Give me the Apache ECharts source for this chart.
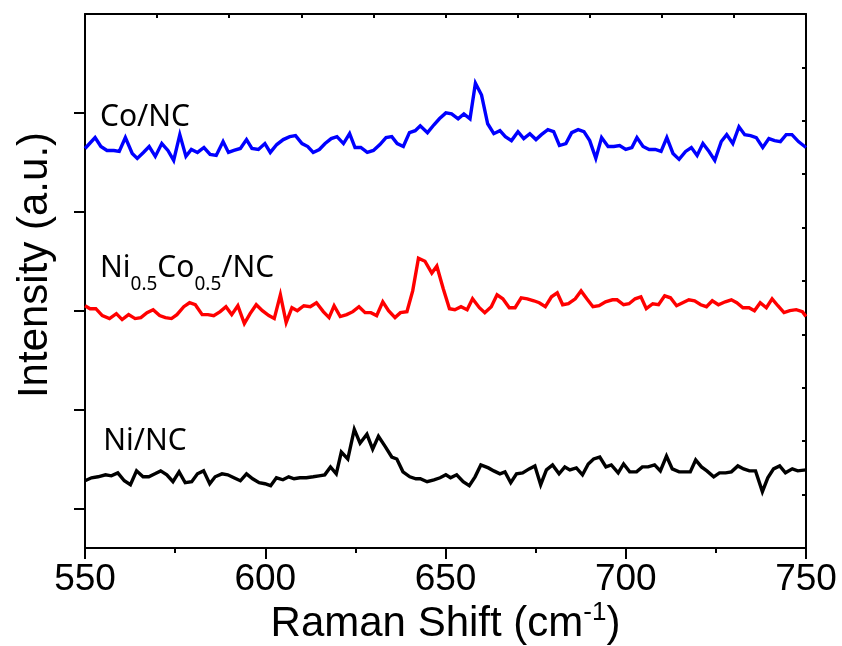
<!DOCTYPE html>
<html>
<head>
<meta charset="utf-8">
<script src="https://cdn.jsdelivr.net/npm/echarts@6/dist/echarts.min.js"></script>
<style>html,body{margin:0;padding:0;background:#fff;}#c{width:842px;height:646px;}</style>
</head>
<body>
<div id="c"></div>
<script>
// ---- data (Raman shift in cm^-1, intensity in a.u. with vertical offsets) ----
const xTicks = [550, 600, 650, 700, 750];
const yTickValues = [0, 100, 200, 300, 400];

const coShift = [550,552.8,554.4,556.1,558.0,559.5,561.2,563.1,564.5,566.2,
567.8,569.5,571.3,573.0,574.6,576.3,578.0,579.5,581.2,583.0,
584.7,586.4,588.3,589.8,591.3,593.1,594.8,596.3,598.1,599.9,
601.4,603.2,605.0,606.8,608.4,610.2,611.8,613.3,615.0,616.6,
618.3,619.9,621.7,623.4,624.9,626.5,628.3,630.0,631.8,633.5,
635.1,636.6,638.3,640.0,641.6,643.0,645.0,646.8,648.3,650.1,
651.7,653.5,655.1,656.8,658.3,660.0,661.7,663.4,665.1,666.6,
668.3,670.1,671.7,673.4,675.1,676.6,678.4,680.0,681.6,683.4,
685.0,686.8,688.4,690.0,691.7,693.3,695.1,696.7,698.3,700.0,
701.7,703.1,704.8,706.5,708.2,709.8,711.4,713.1,714.8,716.6,
718.2,719.8,721.4,723.1,724.7,726.5,728.0,729.7,731.4,733.0,
734.6,736.2,738.0,739.7,741.3,742.9,744.5,746.1,747.9,750];
const coIntensity = [364,375,366,362,362,361,375,359,354,360,
366,356,369,362,352,378,356,363,360,365,
358,357,371,360,362,364,373,364,363,369,
360,368,373,376,377,369,366,360,363,369,
374,376,369,379,365,365,360,362,368,375,
376,369,366,380,382,387,380,388,394,400,
399,394,399,394,430,418,389,379,382,376,
372,381,374,379,373,378,383,381,367,369,
380,383,381,372,354,375,366,366,367,363,
365,375,366,363,363,361,375,359,353,361,
365,357,369,361,352,371,378,369,386,378,
377,375,365,374,372,371,378,378,371,365];

const niCoShift = [550,551.4,553.0,554.8,556.8,558.7,560.3,562.1,563.9,565.5,
567.2,568.9,570.7,572.3,574.0,575.5,577.4,579.0,580.6,582.5,
584.1,585.7,587.5,589.1,590.7,592.4,594.2,595.8,597.5,599.2,
601.0,602.5,604.2,605.8,607.4,608.9,610.7,612.5,614.2,616.1,
617.7,619.1,620.8,622.6,624.3,626.0,627.7,629.3,630.9,632.6,
634.2,636.0,637.5,639.3,640.9,642.5,644.3,646.2,647.6,649.4,
651.1,652.6,654.3,656.0,657.5,659.4,660.9,662.7,664.3,665.9,
667.7,669.3,671.0,672.7,674.5,676.0,677.7,679.4,681.0,682.5,
684.1,686.0,687.6,689.2,690.9,692.6,694.4,696.3,697.6,699.4,
700.9,702.6,704.2,705.7,707.5,709.1,710.8,712.4,714.1,715.8,
717.5,719.1,720.8,722.4,724.0,725.7,727.6,729.3,730.8,732.5,
734.2,735.7,737.3,739.0,740.6,742.2,743.9,745.5,747.3,749.0,750];
const niCoIntensity = [205,202,202,195,192,197,191,196,192,193,
198,201,195,193,192,196,204,208,206,196,
196,195,199,204,196,205,187,197,206,200,
195,192,216,188,203,200,205,204,208,199,
193,205,194,196,199,204,198,198,195,209,
200,193,198,199,220,253,250,238,245,222,
202,201,204,201,212,203,198,204,216,212,
203,203,213,212,210,208,204,214,218,206,
207,212,220,212,204,205,209,211,211,206,
207,212,214,202,207,206,215,213,205,208,
211,210,206,204,210,206,209,211,208,203,
203,200,208,203,212,205,198,200,201,199,194];

const niShift = [550,551.8,553.6,555.7,557.3,559.1,560.9,562.6,564.3,566.1,
567.7,569.4,571.0,572.7,574.4,576.1,577.8,579.6,581.2,582.9,
584.6,586.1,588.0,589.6,591.3,593.1,594.8,596.5,598.3,599.9,
601.5,603.1,604.9,606.5,608.0,609.6,611.4,613.3,614.9,616.5,
618.1,619.7,621.1,622.9,624.7,626.3,628.2,629.8,631.4,633.2,
635.1,636.5,638.2,640.1,641.8,643.0,644.9,646.8,648.5,650.1,
651.4,653.1,654.9,656.6,658.2,659.8,661.9,663.4,665.1,666.5,
668.1,669.7,671.4,673.2,674.8,676.4,678.0,679.7,681.5,683.1,
684.5,686.3,688.0,689.6,691.1,692.8,694.5,696.0,697.9,699.4,
701.1,703.0,704.6,706.2,708.0,709.6,711.3,712.9,714.8,716.3,
717.9,719.4,721.0,722.5,724.4,726.0,727.7,729.3,731.1,732.7,
734.3,736.0,737.9,739.4,741.0,742.7,744.3,746.2,747.7,750];
const niIntensity = [28,31,32,34,33,36,28,24,38,32,
32,35,38,34,27,37,26,27,35,38,
25,32,35,34,31,28,35,30,26,25,
23,31,29,32,30,31,31,32,33,34,
42,35,57,50,80,66,75,60,73,63,
52,50,37,32,30,30,27,29,31,34,
31,34,27,23,32,44,41,38,35,37,
26,35,36,40,43,24,39,44,35,42,
39,41,34,45,50,52,42,44,36,45,
37,37,42,42,44,38,53,40,37,37,
37,49,42,38,32,36,36,37,43,40,
38,38,17,31,40,43,36,40,38,39];

const seriesNames = ['Co/NC', 'Ni0.5Co0.5/NC', 'Ni/NC'];
const labelTexts = ['{m|Co/NC}', '{m|Ni}{s|0.5}{m|Co}{s|0.5}{m|/NC}', '{m|Ni/NC}'];
const labelShift = [554.3, 554.3, 555.2];
const labelIntensity = [392, 239, 64];
const seriesColors = ['#0000ff', '#ff0000', '#000000'];

function zip(xs, ys) { return xs.map((x, i) => [x, ys[i]]); }

const chart = echarts.init(document.getElementById('c'), null, {renderer: 'canvas'});
const axisFont = 'Arial, "Liberation Sans", sans-serif';
const lineSeries = [
  {x: coShift, y: coIntensity},
  {x: niCoShift, y: niCoIntensity},
  {x: niShift, y: niIntensity}
].map((s, i) => ({
  name: seriesNames[i],
  type: 'line',
  xAxisIndex: 0, yAxisIndex: 0,
  data: zip(s.x, s.y),
  showSymbol: false,
  symbol: 'none',
  lineStyle: {color: seriesColors[i], width: 3.4, join: 'miter'},
  itemStyle: {color: seriesColors[i]},
  clip: true,
  z: 3
}));

const labelSeries = {
  type: 'scatter',
  xAxisIndex: 0, yAxisIndex: 0,
  symbol: 'circle',
  symbolSize: 1,
  itemStyle: {color: 'rgba(0,0,0,0)'},
  silent: true,
  data: labelShift.map((x, i) => ({value: [x, labelIntensity[i]], text: labelTexts[i]})),
  label: {
    show: true,
    position: [0, 0],
    align: 'left',
    verticalAlign: 'middle',
    color: '#000',
    opacity: 1,
    textBorderWidth: 0,
    formatter: p => p.data.text,
    rich: {
      m: {fontFamily: '"Noto Sans", sans-serif', fontSize: 30, color: '#000', lineHeight: 36, verticalAlign: 'top', textBorderWidth: 0},
      s: {fontFamily: '"Noto Sans", sans-serif', fontSize: 19, color: '#000', lineHeight: 20, verticalAlign: 'top', padding: [21, 0, 0, 0], textBorderWidth: 0}
    }
  },
  z: 5
};

chart.setOption({
  animation: false,
  backgroundColor: '#ffffff',
  grid: {left: 85, top: 14, width: 721, height: 534, containLabel: false, outerBoundsMode: 'none'},
  xAxis: [
    {
      type: 'value', position: 'bottom', min: 550, max: 750, interval: 50,
      axisLine: {show: true, onZero: false, lineStyle: {color: '#000', width: 2}},
      axisTick: {show: true, inside: false, length: 11, lineStyle: {color: '#000', width: 2}},
      minorTick: {show: true, splitNumber: 2, length: 5, lineStyle: {color: '#000', width: 2}},
      axisLabel: {show: true, margin: 13, color: '#000', fontSize: 37, fontFamily: axisFont,
        customValues: xTicks},
      splitLine: {show: false},
      name: '{a|Raman Shift (cm}{s|-1}{a|)}',
      nameLocation: 'middle', nameGap: 49, nameMoveOverlap: false,
      nameTextStyle: {
        rich: {
          a: {fontSize: 42, fontFamily: axisFont, color: '#000', lineHeight: 48, verticalAlign: 'bottom'},
          s: {fontSize: 26, fontFamily: axisFont, color: '#000', lineHeight: 30, verticalAlign: 'bottom', padding: [0, 0, 19, 0]}
        }
      }
    },
    {
      type: 'value', position: 'top', min: 550, max: 750, interval: 20,
      axisLine: {show: true, onZero: false, lineStyle: {color: '#000', width: 2}},
      axisTick: {show: true, inside: true, length: 4, lineStyle: {color: '#000', width: 2}},
      axisLabel: {show: false}, splitLine: {show: false}
    }
  ],
  yAxis: [
    {
      type: 'value', position: 'left', min: -40, max: 500,
      axisLine: {show: true, onZero: false, lineStyle: {color: '#000', width: 2}},
      axisTick: {show: true, inside: false, length: 11, customValues: yTickValues, lineStyle: {color: '#000', width: 2}},
      axisLabel: {show: false}, splitLine: {show: false},
      name: 'Intensity (a.u.)', nameLocation: 'middle', nameGap: 29, nameMoveOverlap: false,
      nameTextStyle: {fontSize: 42, fontFamily: axisFont, color: '#000', padding: [0, 0, 0, 32]}
    },
    {
      type: 'value', position: 'right', min: 0, max: 10, interval: 1,
      axisLine: {show: true, onZero: false, lineStyle: {color: '#000', width: 2}},
      axisTick: {show: true, inside: true, length: 4, lineStyle: {color: '#000', width: 2}},
      axisLabel: {show: false}, splitLine: {show: false}
    }
  ],
  series: lineSeries.concat([labelSeries])
});
</script>
</body>
</html>
